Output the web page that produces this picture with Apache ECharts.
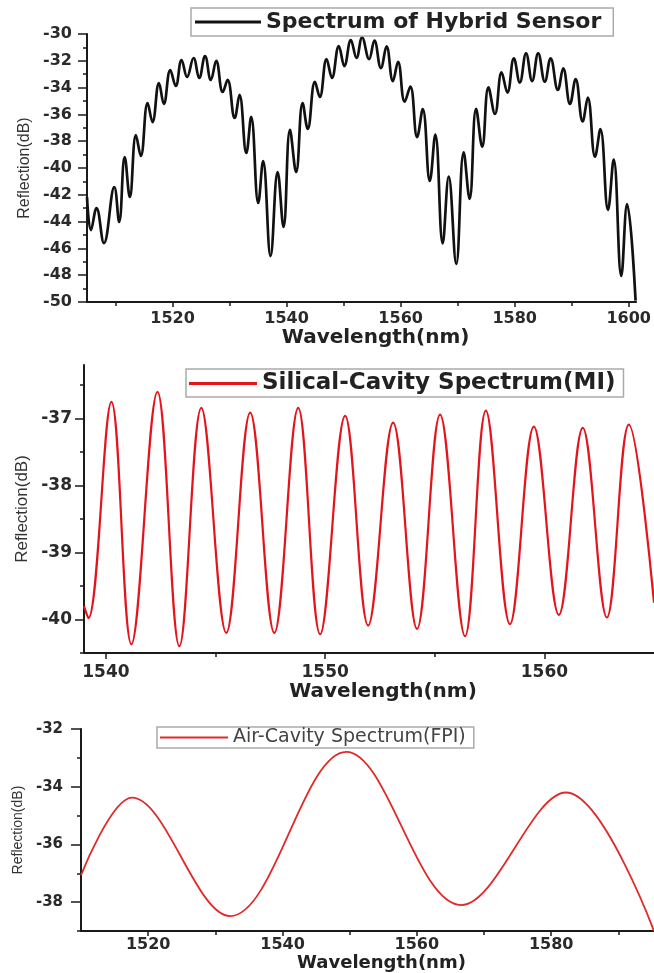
<!DOCTYPE html>
<html>
<head>
<meta charset="utf-8">
<script src="https://cdn.jsdelivr.net/npm/echarts@6/dist/echarts.min.js"></script>
<style>
  html, body { margin: 0; padding: 0; background: #fff; }
  #main { width: 654px; height: 973px; }
</style>
</head>
<body>
<div id="main"></div>
<script>
// hybrid sensor spectrum (peaks / dips)
var hybridWl = [
  1505.0, 1505.7, 1506.67, 1507.97, 1509.79, 1510.64, 1511.61, 1512.51, 1513.58, 1514.43,
  1515.63, 1516.48, 1517.62, 1518.47, 1519.61, 1520.56, 1521.58, 1522.55, 1523.69, 1524.68,
  1525.70, 1526.72, 1527.66, 1528.80, 1529.65, 1530.89, 1531.74, 1532.94, 1533.79, 1535.03,
  1535.88, 1537.19, 1538.43, 1539.46, 1540.60, 1541.67, 1542.81, 1543.71, 1544.97, 1545.82,
  1547.01, 1547.95, 1549.16, 1550.13, 1551.27, 1552.26, 1553.24, 1554.47, 1555.40, 1556.54,
  1557.53, 1558.64, 1559.54, 1560.71, 1561.70, 1562.89, 1563.88, 1565.11, 1566.08, 1567.37,
  1568.43, 1569.75, 1571.06, 1572.09, 1573.24, 1574.30, 1575.40, 1576.54, 1577.70, 1578.72,
  1579.86, 1580.90, 1581.99, 1583.06, 1584.12, 1585.29, 1586.30, 1587.57, 1588.51, 1589.70,
  1590.69, 1591.91, 1592.82, 1594.09, 1595.03, 1596.36, 1597.36, 1598.69, 1599.71, 1601.2
];
var hybridDb = [
  -42.16, -44.63, -42.99, -45.60, -41.42, -44.03, -39.18, -42.16, -37.54, -39.10,
  -35.15, -36.57, -33.66, -35.22, -32.69, -33.88, -31.94, -33.21, -31.79, -33.28,
  -31.64, -33.43, -32.01, -34.33, -33.43, -36.27, -34.55, -38.88, -36.19, -42.61,
  -39.48, -46.57, -40.30, -44.40, -37.16, -40.30, -35.15, -37.09, -33.58, -34.70,
  -31.87, -33.28, -30.90, -32.39, -30.45, -31.79, -30.26, -31.87, -30.49, -32.54,
  -30.93, -33.51, -32.07, -35.05, -33.93, -37.69, -35.60, -40.97, -37.50, -45.62,
  -40.65, -47.16, -38.84, -42.31, -35.58, -38.41, -33.99, -35.97, -32.87, -34.37,
  -31.81, -33.62, -31.44, -33.51, -31.44, -33.56, -31.81, -34.18, -32.56, -35.22,
  -33.36, -36.53, -34.74, -39.16, -37.09, -43.13, -39.38, -48.06, -42.69, -49.9
];

// silica cavity (MI)
var miWl = [1539.0, 1539.2, 1540.25, 1541.16, 1542.35, 1543.35, 1544.35, 1545.49, 1546.58, 1547.68,
  1548.77, 1549.77, 1550.91, 1551.96, 1553.10, 1554.19, 1555.24, 1556.38, 1557.33, 1558.43,
  1559.52, 1560.66, 1561.75, 1562.85, 1563.85, 1565.0];
var miDb = [-39.8, -39.98, -36.75, -40.37, -36.6, -40.4, -36.84, -40.2, -36.91, -40.2,
  -36.84, -40.22, -36.96, -40.09, -37.06, -40.14, -36.94, -40.25, -36.88, -40.07,
  -37.12, -39.93, -37.14, -39.97, -37.09, -39.75];

// air cavity (FPI)
var fpiWl = [1510.0, 1517.6, 1532.2, 1549.5, 1566.6, 1582.2, 1595.3];
var fpiDb = [-37.06, -34.38, -38.48, -32.79, -38.10, -34.20, -39.0];

// ticks
var hybridXTicks = [1520, 1540, 1560, 1580, 1600];
var hybridXMinor = [1510, 1530, 1550, 1570, 1590];
var hybridYTicks = [-50, -48, -46, -44, -42, -40, -38, -36, -34, -32, -30];
var hybridYMinor = [-49, -47, -45, -43, -41, -39, -37, -35, -33, -31];
var miXTicks = [1540, 1550, 1560];
var miXMinor = [1545, 1555];
var miYTicks = [-40, -39, -38, -37];
var miYMinor = [-40.5, -39.5, -38.5, -37.5, -36.5];
var fpiXTicks = [1520, 1540, 1560, 1580];
var fpiXMinor = [1530, 1550, 1570, 1590];
var fpiYTicks = [-38, -36, -34, -32];
var fpiYMinor = [-39, -37, -35, -33];

var seriesNames = ['Spectrum of Hybrid Sensor', 'Silical-Cavity Spectrum(MI)', 'Air-Cavity Spectrum(FPI)'];

function pairs(xs, ys) {
  return xs.map(function (x, i) { return [x, ys[i]]; });
}

var AX = '#1a1a1a';

function mainAxis(gi, min, max, ticks, tickLen, fs, margin, name, gap, nameFs) {
  return {
    gridIndex: gi, type: 'value', min: min, max: max,
    axisLine: { show: true, onZero: false, lineStyle: { color: AX, width: 2 } },
    axisTick: { show: true, length: tickLen, customValues: ticks, lineStyle: { color: AX, width: 1.5 } },
    axisLabel: {
      customValues: ticks, fontSize: fs, margin: margin, color: '#2a2a2a', fontWeight: 'bold', fontFamily: 'DejaVu Sans',
      formatter: function (v) { return String(v); }
    },
    splitLine: { show: false },
    name: name, nameLocation: 'middle', nameGap: gap,
    nameTextStyle: nameFs
  };
}
function minorAxis(gi, min, max, ticks, pos) {
  return {
    gridIndex: gi, type: 'value', min: min, max: max, position: pos, offset: 0,
    axisLine: { show: false },
    axisTick: { show: true, length: 4, customValues: ticks, lineStyle: { color: AX, width: 1.5 } },
    axisLabel: { show: false },
    splitLine: { show: false }
  };
}

var xName = function (fs) {
  return { fontSize: fs, fontWeight: 'bold', color: '#222', fontFamily: 'DejaVu Sans', padding: [0, 0, 0, 28] };
};
var yName = function (fs) {
  return { fontSize: fs, color: '#333', fontFamily: 'Liberation Sans' };
};

var myChart = echarts.init(document.getElementById('main'));
var option = {
  animation: false,
  backgroundColor: '#fff',
  grid: [
    { left: 87, top: 34, width: 566, height: 268 },
    { left: 84, top: 365, width: 570, height: 288 },
    { left: 81, top: 729, width: 573, height: 206 }
  ],
  xAxis: [
    Object.assign(mainAxis(0, 1505, 1601.3, hybridXTicks, 5, 16, 9, 'Wavelength(nm)', 22, xName(20)), { position: 'bottom' }),
    Object.assign(mainAxis(1, 1539, 1565, miXTicks, 6, 17, 11, 'Wavelength(nm)', 29, xName(20)), { position: 'bottom' }),
    Object.assign(mainAxis(2, 1510, 1595.3, fpiXTicks, 5, 16, 6, 'Wavelength(nm)', 20, xName(18)), { position: 'bottom' }),
    minorAxis(0, 1505, 1601.3, hybridXMinor, 'bottom'),
    minorAxis(1, 1539, 1565, miXMinor, 'bottom'),
    minorAxis(2, 1510, 1595.3, fpiXMinor, 'bottom')
  ],
  yAxis: [
    Object.assign(mainAxis(0, -50, -30, hybridYTicks, 9, 16, 15, 'Reflection(dB)', 54, yName(16)), { position: 'left' }),
    Object.assign(mainAxis(1, -40.5, -36.2, miYTicks, 9, 17, 12, 'Reflection(dB)', 52, yName(17)), { position: 'left' }),
    Object.assign(mainAxis(2, -39, -32, fpiYTicks, 10, 15, 18, 'Reflection(dB)', 48, yName(14)), { position: 'left' }),
    minorAxis(0, -50, -30, hybridYMinor, 'left'),
    minorAxis(1, -40.5, -36.2, miYMinor, 'left'),
    minorAxis(2, -39, -32, fpiYMinor, 'left')
  ],
  legend: [
    {
      data: [seriesNames[0]], left: 191, top: 8, icon: 'rect',
      itemWidth: 66, itemHeight: 3, padding: [3, 12, 3, 4],
      backgroundColor: '#fff', borderColor: '#aaa', borderWidth: 1.5,
      textStyle: { fontSize: 22, fontWeight: 'bold', color: '#222', fontFamily: 'DejaVu Sans' }
    },
    {
      data: [seriesNames[1]], left: 186, top: 369, icon: 'rect',
      itemWidth: 68, itemHeight: 3, padding: [3, 8, 2, 3],
      backgroundColor: '#fff', borderColor: '#aaa', borderWidth: 1.5,
      textStyle: { fontSize: 23, fontWeight: 'bold', color: '#222', fontFamily: 'DejaVu Sans' }
    },
    {
      data: [seriesNames[2]], left: 157, top: 727, icon: 'rect',
      itemWidth: 68, itemHeight: 2, padding: [1, 8, 1, 3],
      backgroundColor: '#fff', borderColor: '#aaa', borderWidth: 1.5,
      textStyle: { fontSize: 19, color: '#444', fontFamily: 'DejaVu Sans' }
    }
  ],
  series: [
    {
      name: seriesNames[0], type: 'line', xAxisIndex: 0, yAxisIndex: 0,
      data: pairs(hybridWl, hybridDb), symbol: 'none', smooth: 0.42,
      lineStyle: { color: '#111', width: 2.7 }, itemStyle: { color: '#111' }
    },
    {
      name: seriesNames[1], type: 'line', xAxisIndex: 1, yAxisIndex: 1,
      data: pairs(miWl, miDb), symbol: 'none', smooth: 0.38,
      lineStyle: { color: '#e3141c', width: 2.2 }, itemStyle: { color: '#e3141c' }
    },
    {
      name: seriesNames[2], type: 'line', xAxisIndex: 2, yAxisIndex: 2,
      data: pairs(fpiWl, fpiDb), symbol: 'none', smooth: 0.36,
      lineStyle: { color: '#e02a2a', width: 1.8 }, itemStyle: { color: '#e02a2a' }
    }
  ]
};
myChart.setOption(option);
</script>
</body>
</html>
